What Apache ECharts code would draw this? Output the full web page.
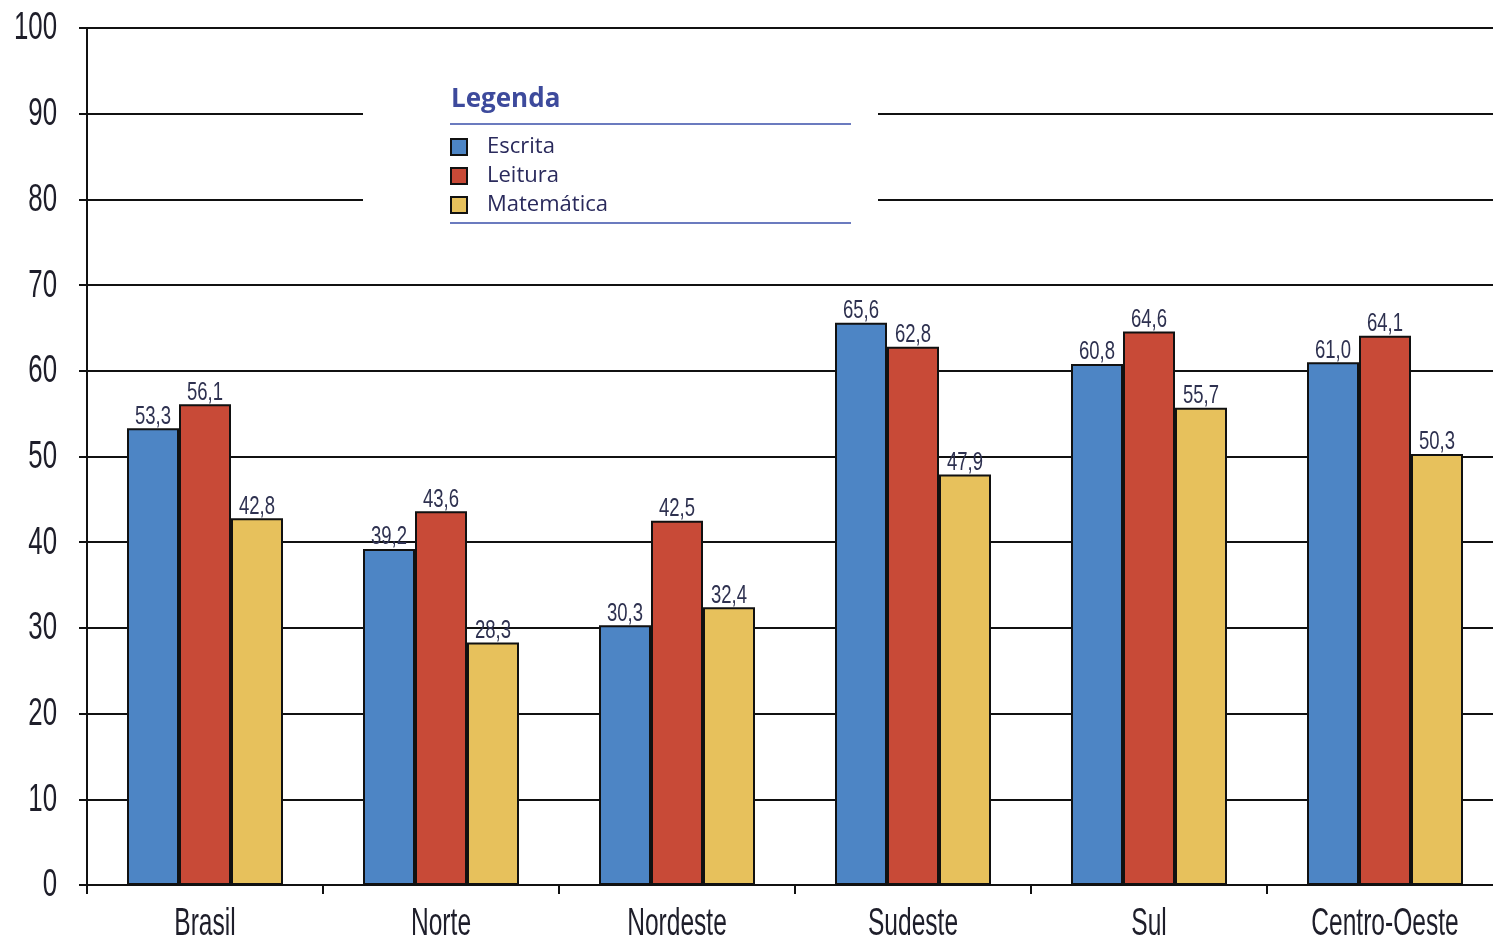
<!DOCTYPE html>
<html>
<head>
<meta charset="utf-8">
<script src="https://cdn.jsdelivr.net/npm/echarts@6/dist/echarts.min.js"></script>
<style>
html,body{margin:0;padding:0;background:#fff;overflow:hidden;}
#c{width:1510px;height:941px;}
</style>
</head>
<body>
<div id="c"></div>
<script>
const categories = ['Brasil', 'Norte', 'Nordeste', 'Sudeste', 'Sul', 'Centro-Oeste'];
const escrita = [53.3, 39.2, 30.3, 65.6, 60.8, 61.0];
const leitura = [56.1, 43.6, 42.5, 62.8, 64.6, 64.1];
const matematica = [42.8, 28.3, 32.4, 47.9, 55.7, 50.3];
const seriesNames = ['Escrita', 'Leitura', 'Matemática'];
const yTickLabels = [0, 10, 20, 30, 40, 50, 60, 70, 80, 90, 100];

const COND = '"Liberation Sans", Arial, sans-serif';
const colors = ['#4d85c5', '#c84a37', '#e7c15c'];
const BAR_W = 52;

function mk(name, data, color) {
  return {
    name: name,
    type: 'bar',
    data: data,
    barWidth: BAR_W,
    barGap: '0%',
    itemStyle: { color: color, borderColor: '#111', borderWidth: 2 },
    label: { show: false }
  };
}

const chart = echarts.init(document.getElementById('c'));
chart.setOption({
  animation: false,
  backgroundColor: '#fff',
  grid: { left: 87, top: 28, width: 1416, height: 857, containLabel: false },
  xAxis: {
    type: 'category',
    data: categories,
    axisLine: { show: true, lineStyle: { color: '#111', width: 2 } },
    axisTick: { show: true, interval: 0, length: 9, lineStyle: { color: '#111', width: 2 } },
    axisLabel: { show: false }
  },
  yAxis: {
    type: 'value',
    min: 0, max: 100, interval: 10,
    axisLine: { show: true, lineStyle: { color: '#111', width: 2 } },
    axisTick: { show: true, length: 8, lineStyle: { color: '#111', width: 2 } },
    splitLine: { show: true, lineStyle: { color: '#111', width: 2 } },
    axisLabel: { show: false }
  },
  legend: {
    data: seriesNames,
    orient: 'vertical',
    left: 450, top: 136,
    padding: 0,
    icon: 'rect',
    itemWidth: 16, itemHeight: 16, itemGap: 7,
    z: 10,
    textStyle: { fontFamily: '"Open Sans", sans-serif', fontSize: 22, lineHeight: 20, color: '#2a2a5c', padding: [0, 0, 0, 15] }
  },
  graphic: [
    { type: 'rect', z: 5, shape: { x: 363, y: 45, width: 515, height: 210 }, style: { fill: '#fff' } },
    { type: 'text', z: 6, left: 451, top: 87, style: { text: 'Legenda', fontFamily: '"Open Sans", sans-serif', fontWeight: 'bold', fontSize: 26, fill: '#3d4a9c' } },
    { type: 'line', z: 6, shape: { x1: 450, y1: 124, x2: 851, y2: 124 }, style: { stroke: '#6b7bbf', lineWidth: 2 } },
    { type: 'line', z: 6, shape: { x1: 450, y1: 223, x2: 851, y2: 223 }, style: { stroke: '#6b7bbf', lineWidth: 2 } }
  ],
  series: [
    mk(seriesNames[0], escrita, colors[0]),
    mk(seriesNames[1], leitura, colors[1]),
    mk(seriesNames[2], matematica, colors[2]),
    {
      name: 'yLabels', type: 'custom', z: 10, silent: true,
      data: yTickLabels.map(v => [0, v]),
      renderItem: function (params, api) {
        const v = api.value(1);
        const p = api.coord([0, v]);
        return {
          type: 'text', x: params.coordSys.x - 30, y: p[1] + 1, scaleX: 0.68,
          style: { text: String(v), align: 'right', verticalAlign: 'middle',
            fontFamily: COND, fontSize: 38, fill: '#1e1e2a' }
        };
      }
    },
    {
      name: 'xLabels', type: 'custom', z: 10, silent: true,
      data: categories.map((c, i) => [i, 0]),
      renderItem: function (params, api) {
        const i = api.value(0);
        const p = api.coord([i, 0]);
        return {
          type: 'text', x: p[0], y: p[1] + 39, scaleX: 0.63,
          style: { text: categories[i], align: 'center', verticalAlign: 'middle',
            fontFamily: COND, fontSize: 39, fill: '#1e1e2a' }
        };
      }
    },
    {
      name: 'valueLabels', type: 'custom', z: 10, silent: true,
      data: categories.map((c, i) => [i, escrita[i], leitura[i], matematica[i]]),
      renderItem: function (params, api) {
        const i = api.value(0);
        const cx = api.coord([i, 0])[0];
        const children = [];
        for (let k = 0; k < 3; k++) {
          const v = api.value(k + 1);
          const y = api.coord([i, v])[1];
          children.push({
            type: 'text', x: cx + (k - 1) * BAR_W, y: y + 1, scaleX: 0.74,
            style: { text: v.toFixed(1).replace('.', ','), align: 'center', verticalAlign: 'bottom',
              fontFamily: COND, fontSize: 25, fill: '#2e3150' }
          });
        }
        return { type: 'group', children: children };
      }
    }
  ]
});
</script>
</body>
</html>
